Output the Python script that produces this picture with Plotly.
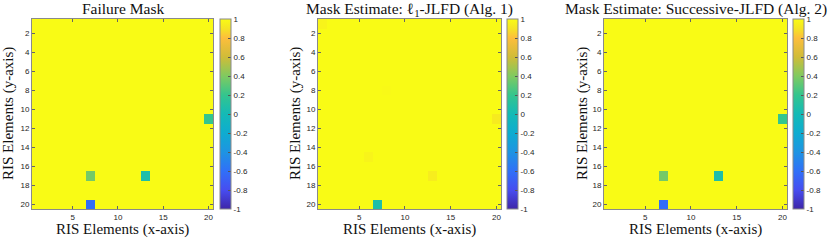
import plotly.graph_objects as go

# ---------------- data ----------------
N = 20
elements = list(range(1, N + 1))

# sparse deviations from 1 (row, col, value) for each panel
fail_rows = [11, 17, 17, 20]
fail_cols = [20, 7, 13, 7]
fail_vals = [0.2, 0.37, 0.07, -0.62]

est1_rows = [1, 8, 11, 15, 17, 20]
est1_cols = [1, 8, 20, 6, 13, 7]
est1_vals = [0.97, 0.99, 0.93, 0.97, 0.94, 0.07]

est2_rows = [11, 17, 17, 20]
est2_cols = [20, 7, 13, 7]
est2_vals = [0.2, 0.37, 0.07, -0.62]

titles = ["Failure Mask",
          "Mask Estimate: \u2113<sub>1</sub>-JLFD (Alg. 1)",
          "Mask Estimate: Successive-JLFD (Alg. 2)"]
cbar_ticks = [-1, -0.8, -0.6, -0.4, -0.2, 0, 0.2, 0.4, 0.6, 0.8, 1]
x_ticks = [5, 10, 15, 20]
y_ticks = [2, 4, 6, 8, 10, 12, 14, 16, 18, 20]


def build(rows, cols, vals):
    z = [[1.0] * N for _ in range(N)]
    for r, c, v in zip(rows, cols, vals):
        z[r - 1][c - 1] = v
    return z


Z = [build(fail_rows, fail_cols, fail_vals),
     build(est1_rows, est1_cols, est1_vals),
     build(est2_rows, est2_cols, est2_vals)]

parula = [
    [0.0, "rgb(62,38,168)"],
    [0.1, "rgb(71,77,240)"],
    [0.2, "rgb(48,112,248)"],
    [0.3, "rgb(30,148,226)"],
    [0.4, "rgb(14,172,208)"],
    [0.5, "rgb(20,186,182)"],
    [0.6, "rgb(52,197,142)"],
    [0.7, "rgb(128,202,96)"],
    [0.8, "rgb(208,188,56)"],
    [0.9, "rgb(253,190,60)"],
    [0.95, "rgb(245,228,36)"],
    [1.0, "rgb(249,251,21)"],
]

# ---------------- layout geometry (pixels) ----------------
W, H = 830, 240
plot_x = [(32, 213), (318, 501), (604, 787)]
cb_x = [220, 507, 793]
ytitle_x = [8, 295, 582]
top, bottom = 19, 209

fig = go.Figure()
ann = []
for i in range(3):
    xa = "x" if i == 0 else f"x{i+1}"
    ya = "y" if i == 0 else f"y{i+1}"
    x0, x1 = plot_x[i]
    fig.add_trace(go.Heatmap(
        z=Z[i], x=elements, y=elements, xaxis=xa, yaxis=ya,
        colorscale=parula, zmin=-1, zmax=1,
        colorbar=dict(
            x=cb_x[i] / W, xanchor="left", xpad=0, ypad=0,
            y=1 - (top + bottom) / 2 / H, yanchor="middle",
            len=(bottom - top) / H, lenmode="fraction",
            thickness=11, thicknessmode="pixels",
            outlinewidth=1, outlinecolor="#8a8a8a",
            tickvals=cbar_ticks, ticktext=[f"{t:g}" for t in cbar_ticks],
            ticks="inside", ticklen=3, tickcolor="#555",
            tickfont=dict(family="Liberation Sans", size=8, color="#262626"),
        ),
        hoverinfo="skip",
    ))
    axis_common = dict(
        showline=True, linecolor="#8a8a8a", linewidth=1, mirror="ticks",
        ticks="inside", ticklen=3, tickcolor="#666", showgrid=False,
        zeroline=False,
        tickfont=dict(family="Liberation Sans", size=8, color="#262626"),
    )
    fig.update_layout(**{
        ("xaxis" if i == 0 else f"xaxis{i+1}"): dict(
            domain=[x0 / W, x1 / W], range=[0.5, 20.5], anchor=ya,
            tickvals=x_ticks, **axis_common),
        ("yaxis" if i == 0 else f"yaxis{i+1}"): dict(
            domain=[1 - bottom / H, 1 - top / H], range=[20.5, 0.5], anchor=xa,
            tickvals=y_ticks, **axis_common),
    })
    cx = (x0 + x1) / 2 / W
    ann.append(dict(text=titles[i], x=cx, y=1, xref="paper", yref="paper",
                    xanchor="center", yanchor="top", showarrow=False,
                    borderpad=0, yshift=1,
                    font=dict(family="Liberation Serif", size=15.5, color="#111")))
    ann.append(dict(text="RIS Elements (x-axis)", x=cx, y=1 - 229 / H,
                    xref="paper", yref="paper", xanchor="center", yanchor="middle",
                    showarrow=False,
                    font=dict(family="Liberation Serif", size=15, color="#111")))
    ann.append(dict(text="RIS Elements (y-axis)", x=ytitle_x[i] / W,
                    y=1 - (top + bottom) / 2 / H, xref="paper", yref="paper",
                    xanchor="center", yanchor="middle", textangle=-90,
                    showarrow=False,
                    font=dict(family="Liberation Serif", size=15, color="#111")))

fig.update_layout(
    width=W, height=H, margin=dict(l=0, r=0, t=0, b=0),
    paper_bgcolor="white", plot_bgcolor="white",
    annotations=ann, showlegend=False,
)

fig.write_html("out.html",
               config={"displayModeBar": False},
               post_script="document.body.style.margin='0px';"
                           "document.body.style.overflow='hidden';")
